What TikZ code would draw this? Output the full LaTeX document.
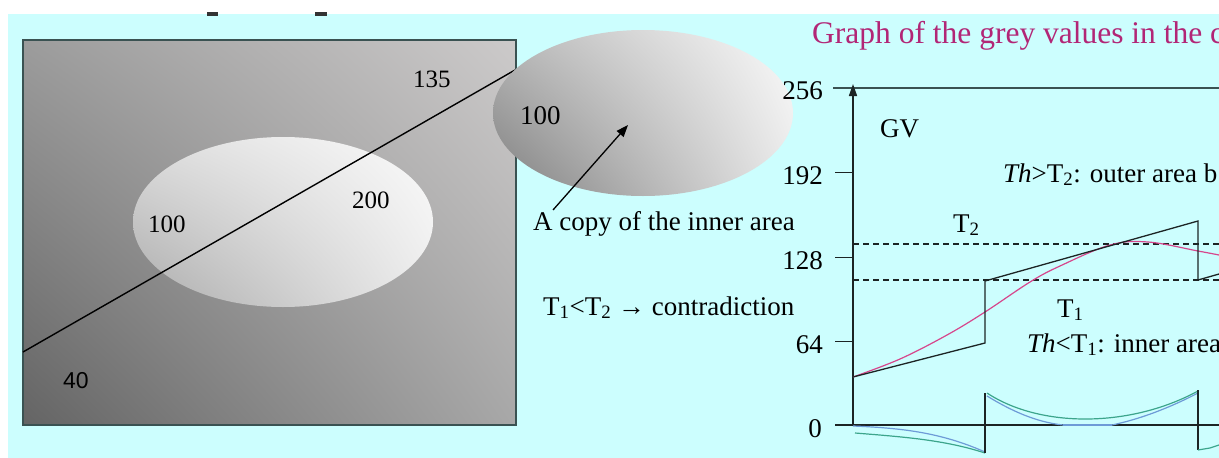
\documentclass[tikz,border=0pt]{standalone}
\usepackage{fontspec}
\setmainfont{Liberation Serif}
\newfontfamily\sansf{Liberation Sans}
\usetikzlibrary{arrows.meta,shadings}
\definecolor{bgcyan}{RGB}{204,254,254}
\definecolor{rimcol}{RGB}{58,82,82}
\definecolor{titlemag}{RGB}{178,38,118}
\definecolor{curvemag}{RGB}{214,70,140}
\definecolor{tealc}{RGB}{60,165,140}
\definecolor{bluec}{RGB}{110,155,215}
\definecolor{axcol}{RGB}{28,36,36}
\definecolor{sqUL}{RGB}{156,156,156}
\definecolor{sqUR}{RGB}{204,202,202}
\definecolor{sqLL}{RGB}{100,100,100}
\definecolor{sqLR}{RGB}{168,168,168}
\definecolor{elUL}{RGB}{222,222,222}
\definecolor{elUR}{RGB}{250,250,250}
\definecolor{elLL}{RGB}{170,170,170}
\definecolor{elLR}{RGB}{236,236,236}
\definecolor{cpUL}{RGB}{185,185,185}
\definecolor{cpUR}{RGB}{250,250,250}
\definecolor{cpLL}{RGB}{125,125,125}
\definecolor{cpLR}{RGB}{232,232,232}
\tikzset{
  lbl/.style={inner sep=0pt, font=\fontsize{27}{30}\selectfont},
  rlbl/.style={inner sep=0pt, font=\fontsize{25}{28}\selectfont},
  axisline/.style={draw=axcol, line width=1.6pt},
  tickline/.style={draw=axcol, line width=1.4pt},
  threshold/.style={draw=axcol, line width=1.2pt, dash pattern=on 6pt off 4pt},
  jumpline/.style={draw=axcol, line width=1.3pt, line join=miter},
  smoothmag/.style={draw=curvemag, line width=1.2pt},
  dertea/.style={draw=tealc, line width=1.2pt},
  derblue/.style={draw=bluec, line width=1.2pt}
}
\begin{document}
\begin{tikzpicture}[x=1pt,y=-1pt]
\useasboundingbox (0,0) rectangle (1219,458);
\fill[white] (0,0) rectangle (1219,458);
\fill[bgcyan] (8,14) rectangle (1219,458);
% bits of cut-off text at the very top
\fill[black!80] (207,12) rectangle (218,15.5);
\fill[black!80] (315,12) rectangle (327,15.5);

% ---- left picture: grey square with bright ellipse ----
\shade[upper left=sqUL, upper right=sqUR, lower left=sqLL, lower right=sqLR]
  (23,40) rectangle (516,425);
\shade[upper left=elUL, upper right=elUR, lower left=elLL, lower right=elLR]
  (283,222) ellipse [x radius=150, y radius=85];
\draw[draw=rimcol, line width=2.5pt] (23,40) rectangle (516,425);
\coordinate (d1) at (23,352);
\coordinate (d2) at (515,70);
\draw[black, line width=1.4pt] (d1) -- (d2);
\node[rlbl, anchor=base west] (l135) at (413,87) {135};
\node[rlbl, anchor=base west] (l100a) at (148,232) {100};
\node[rlbl, anchor=base west] (l200) at (352,208) {200};
\node[inner sep=0pt, font=\sansf\fontsize{23}{26}\selectfont, anchor=base west, text=black] (l40) at (63,388) {40};

% ---- copy of the inner area ----
\shade[upper left=cpUL, upper right=cpUR, lower left=cpLL, lower right=cpLR]
  (643,113) ellipse [x radius=150, y radius=83];
\node[lbl, anchor=base west] (l100b) at (520,124) {100};
\coordinate (arrS) at (553,210);
\coordinate (arrE) at (628,125);
\draw[black, line width=1.3pt, -{Triangle[length=12pt,width=9pt]}] (arrS) -- (arrE);
\node[lbl, anchor=base west] (copy) at (533,230) {A copy of the inner area};
\node[lbl, anchor=base west] (contra) at (543,315) {T\textsubscript{1}<T\textsubscript{2} → contradiction};

% ---- graph ----
\node[inner sep=0pt, font=\fontsize{31.5}{34}\selectfont, text=titlemag, anchor=base west] (title) at (812,43) {Graph of the grey values in the c};

\coordinate (o) at (853,425);
\coordinate (ytop) at (853,84);
\draw[draw=rimcol, line width=2.2pt] (833,88) -- (1219,88);
\draw[axisline, -{Triangle[length=12pt,width=8pt]}] (o) -- (ytop);
\draw[axisline] (835,425) -- (1219,425);
\foreach \yy in {172.75,257.5,341.25}{
  \draw[tickline] (835,\yy) -- (853,\yy);
}
\node[lbl, anchor=base east] (t256) at (823,99.5) {256};
\node[lbl, anchor=base east] (t192) at (823,184.5) {192};
\node[lbl, anchor=base east] (t128) at (823,269) {128};
\node[lbl, anchor=base east] (t64) at (823,353) {64};
\node[lbl, anchor=base east] (t0) at (822,437) {0};
\node[lbl, anchor=base west] (gv) at (880,137) {GV};

\draw[threshold] (853,244) -- (1219,244);
\draw[threshold] (853,280) -- (1219,280);

% smooth grey value profile
\draw[smoothmag] plot[smooth, tension=0.6] coordinates {(853,377) (900,359) (947,335) (985,312) (1030,282) (1060,266) (1110,245) (1148,242) (1198,251) (1219,255)};

% piecewise profile with jumps
\coordinate (b1) at (853,377);
\coordinate (b2) at (985,343);
\coordinate (b3) at (985,281);
\coordinate (b4) at (1198,221);
\coordinate (b5) at (1198,280);
\coordinate (b6) at (1219,274);
\draw[jumpline] (b1) -- (b2) -- (b3) -- (b4) -- (b5) -- (b6);

% derivative-like curves
\draw[derblue] (853,426) .. controls (900,428) and (940,432) .. (985,452);
\draw[dertea] (855,433) .. controls (905,437) and (945,440) .. (985,453);
\draw[dertea] (987,393) .. controls (1040,428) and (1130,428) .. (1198,391);
\draw[derblue] (987,396) .. controls (1010,410) and (1035,422) .. (1063,425);
\draw[derblue, line width=1.6pt] (1063,425) -- (1112,425);
\draw[derblue] (1112,425) .. controls (1145,418) and (1175,405) .. (1198,393);
\draw[jumpline] (985,453) -- (985,393);
\draw[jumpline] (1198,390) -- (1198,450);
\draw[dertea] (1198,450) -- (1210,448) -- (1219,445);

\node[lbl, anchor=base west] (lt2) at (953,232) {T\textsubscript{2}};
\node[lbl, anchor=base west] (lt1) at (1057,317) {T\textsubscript{1}};
\node[lbl, anchor=base west] (outer) at (1003,182) {\textit{Th}>T\textsubscript{2}: outer area b};
\node[lbl, anchor=base west] (inner) at (1027,352) {\textit{Th}<T\textsubscript{1}: inner area};
\end{tikzpicture}
\end{document}
